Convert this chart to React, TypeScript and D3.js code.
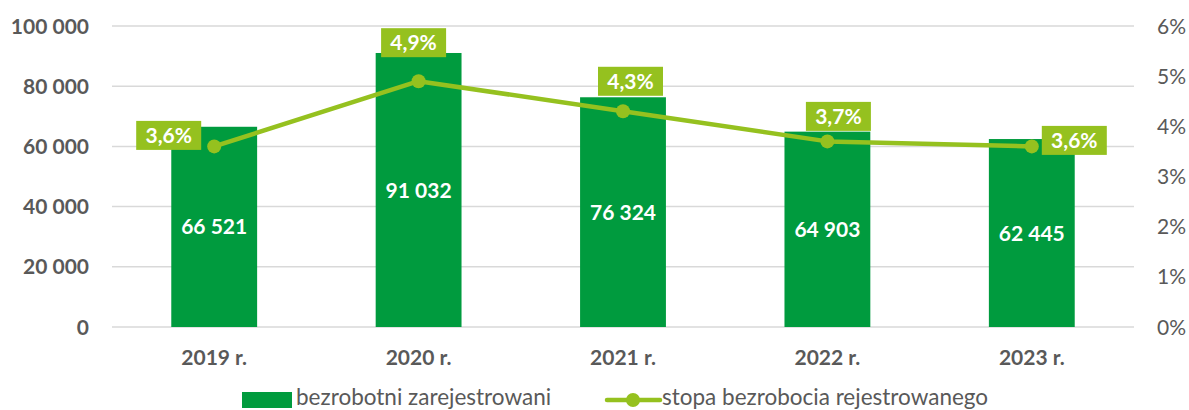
import React from "react";
import * as d3 from "d3";

const years = ["2019 r.", "2020 r.", "2021 r.", "2022 r.", "2023 r."];
const unemployed = [66521, 91032, 76324, 64903, 62445];
const rate = [3.6, 4.9, 4.3, 3.7, 3.6];
const leftTicks = [0, 20000, 40000, 60000, 80000, 100000];
const rightTicks = [0, 1, 2, 3, 4, 5, 6];
const seriesNames = ["bezrobotni zarejestrowani", "stopa bezrobocia rejestrowanego"];

// label box placement relative to point (layout only)
const labelOffsets = [
  [-45.5, -11],
  [-5, -38.5],
  [7.5, -30],
  [11, -25],
  [42.5, -6],
];

const W = 1189;
const H = 410;
const BAR = "#009B3E";
const LINE = "#95C11F";
const GRID = "#D9D9D9";
const TXT = "#595959";
const FONT = "Lato, 'Open Sans', sans-serif";

const fmt = (v: number) => d3.format(",")(v).replace(/,/g, " ");
const fmtPct = (v: number) => v.toFixed(1).replace(".", ",") + "%";

export default function App() {
  const left = 112, right = 1134, top = 26, bottom = 327;
  const x = d3.scaleBand<string>().domain(years).range([left, right]).paddingInner(0.58).paddingOuter(0.29);
  const y = d3.scaleLinear().domain([0, 100000]).range([bottom, top]);
  const y2 = d3.scaleLinear().domain([0, 6]).range([bottom, top]);
  const cx = (i: number) => (x(years[i]) as number) + x.bandwidth() / 2;
  const line = d3.line<number>().x((_, i) => cx(i)).y((d) => y2(d));
  const boxW = 65, boxH = 29;

  return (
    <svg width={W} height={H} style={{ position: "absolute", left: 0, top: 0, display: "block" }} fontFamily={FONT}>
      <rect width={W} height={H} fill="#fff" />
      {leftTicks.map((t) => (
        <g key={t}>
          <line x1={left} x2={right} y1={y(t)} y2={y(t)} stroke={GRID} strokeWidth={1.5} />
          <text x={89} y={y(t)} dy="0.36em" textAnchor="end" fontWeight="bold" fontSize={21} fill={TXT}>
            {fmt(t)}
          </text>
        </g>
      ))}
      {rightTicks.map((t) => (
        <text key={t} x={1157} y={y2(t)} dy="0.36em" textAnchor="start" fontSize={21} fill={TXT}>
          {t}%
        </text>
      ))}
      {unemployed.map((v, i) => (
        <g key={i}>
          <rect x={x(years[i])} y={y(v)} width={x.bandwidth()} height={bottom - y(v)} fill={BAR} />
          <text x={cx(i)} y={(y(v) + bottom) / 2} dy="0.36em" textAnchor="middle" fontWeight="bold" fontSize={21} fill="#fff">
            {fmt(v)}
          </text>
        </g>
      ))}
      {years.map((c, i) => (
        <text key={c} x={cx(i)} y={365} textAnchor="middle" fontWeight="bold" fontSize={21} fill={TXT}>
          {c}
        </text>
      ))}
      <path d={line(rate) || ""} fill="none" stroke={LINE} strokeWidth={4.5} strokeLinejoin="round" />
      {rate.map((r, i) => (
        <circle key={i} cx={cx(i)} cy={y2(r)} r={7} fill={LINE} />
      ))}
      {rate.map((r, i) => {
        const bx = cx(i) + labelOffsets[i][0];
        const by = y2(r) + labelOffsets[i][1];
        return (
          <g key={i}>
            <rect x={bx - boxW / 2} y={by - boxH / 2} width={boxW} height={boxH} fill={LINE} />
            <text x={bx} y={by} dy="0.36em" textAnchor="middle" fontWeight="bold" fontSize={21} fill="#fff">
              {fmtPct(r)}
            </text>
          </g>
        );
      })}
      {/* legend */}
      <rect x={242} y={392} width={50} height={16} fill={BAR} />
      <text x={296} y={405} fontSize={22.5} fill={TXT}>{seriesNames[0]}</text>
      <line x1={607} x2={660} y1={400} y2={400} stroke={LINE} strokeWidth={4.5} strokeLinecap="round" />
      <circle cx={633} cy={400} r={7} fill={LINE} />
      <text x={662} y={405} fontSize={22.5} fill={TXT}>{seriesNames[1]}</text>
    </svg>
  );
}
